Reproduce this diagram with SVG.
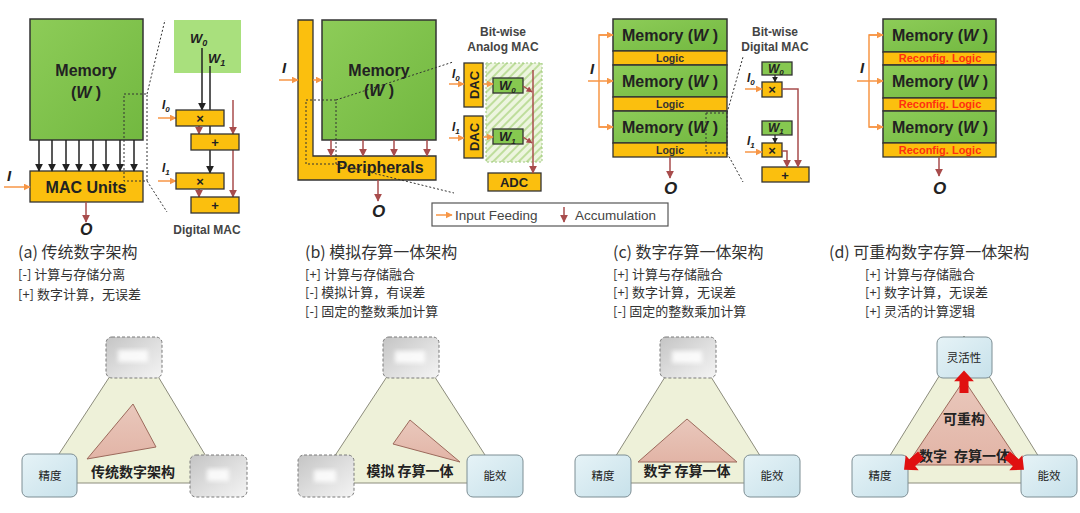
<svg xmlns="http://www.w3.org/2000/svg" width="1080" height="513" viewBox="0 0 1080 513">
<defs>
<linearGradient id="gmem" x1="0" y1="0" x2="1" y2="1"><stop offset="0" stop-color="#8dcc58"/><stop offset="1" stop-color="#72b840"/></linearGradient>
<linearGradient id="gblue" x1="0" y1="0" x2="1" y2="1"><stop offset="0" stop-color="#e6f3f7"/><stop offset="1" stop-color="#c7e1ea"/></linearGradient>
<linearGradient id="ggray" x1="0" y1="0" x2="1" y2="1"><stop offset="0" stop-color="#c4c4c4"/><stop offset="0.6" stop-color="#e2e2e2"/><stop offset="1" stop-color="#f4f4f4"/></linearGradient>
<linearGradient id="gpink" x1="0" y1="0" x2="0" y2="1"><stop offset="0" stop-color="#e9c8bc"/><stop offset="1" stop-color="#e2b4a6"/></linearGradient>
<pattern id="hatch" width="6" height="6" patternUnits="userSpaceOnUse" patternTransform="rotate(45)"><rect width="6" height="6" fill="#edf5df"/><line x1="1" y1="0" x2="1" y2="6" stroke="#b4d88c" stroke-width="1.6"/></pattern>
<filter id="blur" x="-20%" y="-20%" width="140%" height="140%"><feGaussianBlur stdDeviation="2"/></filter>
<marker id="ao" viewBox="0 0 10 10" refX="9" refY="5" markerWidth="7" markerHeight="7" orient="auto" markerUnits="userSpaceOnUse"><path d="M0,0L10,5L0,10z" fill="#f79646"/></marker>
<marker id="ar" viewBox="0 0 10 10" refX="9" refY="5" markerWidth="8" markerHeight="8" orient="auto" markerUnits="userSpaceOnUse"><path d="M0,0L10,5L0,10z" fill="#a84c4c"/></marker>
<marker id="ars" viewBox="0 0 10 10" refX="9" refY="5" markerWidth="6" markerHeight="6" orient="auto" markerUnits="userSpaceOnUse"><path d="M0,0L10,5L0,10z" fill="#a84c4c"/></marker>
<marker id="ab" viewBox="0 0 10 10" refX="9" refY="5" markerWidth="8" markerHeight="8" orient="auto" markerUnits="userSpaceOnUse"><path d="M0,0L10,5L0,10z" fill="#222"/></marker>
<marker id="abs" viewBox="0 0 10 10" refX="9" refY="5" markerWidth="6" markerHeight="6" orient="auto" markerUnits="userSpaceOnUse"><path d="M0,0L10,5L0,10z" fill="#222"/></marker>
<path id="bigarrow" d="M0,-5L13,-5L13,-11L25,0L13,11L13,5L0,5Z"/>
</defs>
<style>
.mem{fill:url(#gmem);stroke:#333;stroke-width:1.5}
.wbox{fill:#86c850;stroke:#333;stroke-width:1.3}
.org{fill:#fbbf0e;stroke:#333;stroke-width:1.3}
.mt{font-family:"Liberation Sans",Arial,sans-serif;font-weight:bold;font-size:16px;fill:#222;text-anchor:middle}
.lg{font-family:"Liberation Sans",Arial,sans-serif;font-weight:bold;font-size:10.5px;fill:#333;text-anchor:middle}
.rl{font-family:"Liberation Sans",Arial,sans-serif;font-weight:bold;font-size:11px;fill:#ff3010;text-anchor:middle}
.op{font-family:"Liberation Sans",Arial,sans-serif;font-weight:bold;font-size:13px;fill:#222;text-anchor:middle}
.var{font-family:"Liberation Sans",Arial,sans-serif;font-weight:bold;font-style:italic;fill:#222}
.cap{font-family:"Liberation Sans",Arial,sans-serif;font-weight:bold;font-size:12px;fill:#444;text-anchor:middle}
.leg{font-family:"Liberation Sans",Arial,sans-serif;font-size:13.5px;fill:#444}
.in{stroke:#f79646;stroke-width:1.5;fill:none;marker-end:url(#ao)}
.inl{stroke:#f79646;stroke-width:1.5;fill:none}
.ac{stroke:#a84c4c;stroke-width:1.5;fill:none;marker-end:url(#ar)}
.acs{stroke:#a84c4c;stroke-width:1.3;fill:none;marker-end:url(#ars)}
.bk{stroke:#222;stroke-width:1.5;fill:none;marker-end:url(#ab)}
.bks{stroke:#222;stroke-width:1.2;fill:none;marker-end:url(#abs)}
.dot{stroke:#333;stroke-width:1;stroke-dasharray:2 2;fill:none}
.h1{font-family:"Noto Sans CJK SC","Liberation Sans",sans-serif;font-size:16px;fill:#333}
.h2{font-family:"Noto Sans CJK SC","Liberation Sans",sans-serif;font-size:13px;fill:#333}
.tri{fill:#eef1d9;stroke:#8c8c7c;stroke-width:1}
.pink{fill:url(#gpink);stroke:#9c6a5c;stroke-width:1}
.tl{font-family:"Noto Sans CJK SC",sans-serif;font-weight:bold;font-size:14px;fill:#222;text-anchor:middle}
.bl{font-family:"Noto Sans CJK SC",sans-serif;font-size:11.5px;fill:#222;text-anchor:middle}
.blue{fill:url(#gblue);stroke:#7d8e94;stroke-width:1}
.gray{fill:url(#ggray);stroke:#7a7a7a;stroke-width:1;stroke-dasharray:3 2}
.blob{fill:#fff;opacity:0.85;filter:url(#blur)}
.red{fill:#e01010}
</style>
<rect width="1080" height="513" fill="#fff"/>

<!-- ===== Panel (a) ===== -->
<g id="a-memory"><rect class="mem" x="30" y="19" width="113" height="121"/><text class="mt" x="86" y="76">Memory</text><text class="mt" x="86" y="98">(<tspan font-style="italic">W</tspan> )</text></g>
<g id="a-mac"><rect class="org" x="30" y="171" width="113" height="31"/><text class="mt" x="86" y="193" font-size="16.5">MAC Units</text></g>
<g id="a-wmem"><rect x="174" y="20" width="67" height="53" fill="#a9e07d"/><text class="var" x="190" y="43" font-size="13">W<tspan font-size="9" dy="3">0</tspan></text><text class="var" x="208" y="63" font-size="13">W<tspan font-size="9" dy="3">1</tspan></text></g>
<g id="a-connectors">
<line class="bk" x1="202" y1="48" x2="202" y2="110"/>
<line class="bk" x1="210" y1="66" x2="210" y2="173"/>
<line class="ac" x1="233" y1="100" x2="233" y2="134"/>
<line class="ac" x1="233" y1="150" x2="233" y2="197"/>
<line class="ac" x1="199" y1="126" x2="199" y2="134"/>
<line class="ac" x1="199" y1="189" x2="199" y2="197"/>
<line class="in" x1="158" y1="118" x2="176" y2="118"/>
<line class="in" x1="158" y1="181" x2="176" y2="181"/>
<line class="bk" x1="39" y1="140" x2="39" y2="171"/>
<line class="bk" x1="52" y1="140" x2="52" y2="171"/>
<line class="bk" x1="66" y1="140" x2="66" y2="171"/>
<line class="bk" x1="79" y1="140" x2="79" y2="171"/>
<line class="bk" x1="93" y1="140" x2="93" y2="171"/>
<line class="bk" x1="106" y1="140" x2="106" y2="171"/>
<line class="bk" x1="120" y1="140" x2="120" y2="171"/>
<line class="bk" x1="134" y1="140" x2="134" y2="171"/>
<line class="in" x1="4" y1="187" x2="30" y2="187"/>
<line class="ac" x1="86" y1="202" x2="86" y2="222"/>
</g>
<g id="a-mul0"><rect class="org" x="176" y="110" width="48" height="16"/><text class="op" x="200" y="123">×</text></g>
<g id="a-add0"><rect class="org" x="191" y="134" width="48" height="16"/><text class="op" x="215" y="147" font-size="15">+</text></g>
<g id="a-mul1"><rect class="org" x="176" y="173" width="48" height="16"/><text class="op" x="200" y="186">×</text></g>
<g id="a-add1"><rect class="org" x="191" y="197" width="48" height="16"/><text class="op" x="215" y="210" font-size="15">+</text></g>
<g id="a-zoom"><rect class="dot" x="124" y="94" width="23" height="87"/><line class="dot" x1="147" y1="94" x2="165" y2="20"/><line class="dot" x1="147" y1="181" x2="167" y2="212"/></g>
<g id="a-labels">
<text class="var" x="7" y="181" font-size="15">I</text>
<text class="var" x="80" y="235" font-size="16">O</text>
<text class="var" x="162" y="109" font-size="12">I<tspan font-size="8" dy="3">0</tspan></text>
<text class="var" x="162" y="172" font-size="12">I<tspan font-size="8" dy="3">1</tspan></text>
<text class="cap" x="207" y="234">Digital MAC</text>
</g>

<!-- ===== Panel (b) ===== -->
<g id="b-periph"><polygon class="org" points="298,20 313,20 313,156 436,156 436,180 298,180"/><text class="mt" x="380" y="173">Peripherals</text></g>
<g id="b-memory"><rect class="mem" x="322" y="20" width="114" height="120"/><text class="mt" x="379" y="76">Memory</text><text class="mt" x="379" y="96">(<tspan font-style="italic">W</tspan> )</text></g>
<g id="b-hatch"><rect x="486" y="63" width="56" height="99" fill="url(#hatch)" stroke="#9cc87a" stroke-width="1" stroke-dasharray="2 2"/></g>
<g id="b-dac0"><rect class="org" x="464" y="63" width="19" height="44"/><text class="op" font-size="14" transform="translate(478.5,85) rotate(-90)">DAC</text></g>
<g id="b-dac1"><rect class="org" x="464" y="116" width="19" height="42"/><text class="op" font-size="14" transform="translate(478.5,137) rotate(-90)">DAC</text></g>
<g id="b-w0"><rect class="wbox" x="493" y="78" width="30" height="15"/><text class="var" x="499" y="90" font-size="13">W<tspan font-size="8" dy="3">0</tspan></text></g>
<g id="b-w1"><rect class="wbox" x="493" y="129" width="30" height="15"/><text class="var" x="499" y="141" font-size="13">W<tspan font-size="8" dy="3">1</tspan></text></g>
<g id="b-adc"><rect class="org" x="488" y="173" width="53" height="18"/><text class="op" x="514" y="187" font-size="14">ADC</text></g>
<g id="b-connectors">
<line class="in" x1="279" y1="80" x2="298" y2="80"/>
<line class="in" x1="313" y1="80" x2="322" y2="80"/>
<line class="ac" x1="331" y1="140" x2="331" y2="156"/>
<line class="ac" x1="363" y1="140" x2="363" y2="156"/>
<line class="ac" x1="394" y1="140" x2="394" y2="156"/>
<line class="ac" x1="427" y1="140" x2="427" y2="156"/>
<line class="ac" x1="378" y1="180" x2="378" y2="201"/>
<line class="in" x1="449" y1="84" x2="464" y2="84"/>
<line class="in" x1="449" y1="138" x2="464" y2="138"/>
<line class="in" x1="483" y1="84" x2="493" y2="84"/>
<line class="in" x1="483" y1="137" x2="493" y2="137"/>
<line class="ac" x1="533" y1="70" x2="533" y2="173"/>
<line class="acs" x1="523" y1="86" x2="532" y2="92"/>
<line class="acs" x1="523" y1="137" x2="532" y2="143"/>
</g>
<g id="b-zoom"><rect class="dot" x="306" y="100" width="30" height="64"/><line class="dot" x1="336" y1="100" x2="453" y2="62"/><line class="dot" x1="336" y1="164" x2="454" y2="193"/></g>
<g id="b-labels">
<text class="var" x="282" y="73" font-size="15">I</text>
<text class="var" x="372" y="217" font-size="17">O</text>
<text class="var" x="452" y="78" font-size="12">I<tspan font-size="8" dy="3">0</tspan></text>
<text class="var" x="452" y="131" font-size="12">I<tspan font-size="8" dy="3">1</tspan></text>
<text class="cap" x="503" y="36">Bit-wise</text>
<text class="cap" x="503" y="51">Analog MAC</text>
</g>
<g id="legend">
<rect x="432" y="203" width="236" height="23" fill="#fff" stroke="#555" stroke-width="1.2"/>
<line class="in" x1="436" y1="215" x2="452" y2="215"/>
<text class="leg" x="455" y="220">Input Feeding</text>
<line class="ac" x1="564" y1="207" x2="564" y2="222"/>
<text class="leg" x="575" y="220">Accumulation</text>
</g>

<!-- ===== Panel (c) ===== -->
<g id="c-mem0"><rect class="mem" x="613" y="19" width="114" height="32"/><text class="mt" x="670" y="41">Memory (<tspan font-style="italic">W</tspan> )</text></g>
<g id="c-logic0"><rect class="org" x="613" y="51" width="114" height="14"/><text class="lg" x="670" y="62">Logic</text></g>
<g id="c-mem1"><rect class="mem" x="613" y="65" width="114" height="32"/><text class="mt" x="670" y="87">Memory (<tspan font-style="italic">W</tspan> )</text></g>
<g id="c-logic1"><rect class="org" x="613" y="97" width="114" height="14"/><text class="lg" x="670" y="108">Logic</text></g>
<g id="c-mem2"><rect class="mem" x="613" y="111" width="114" height="32"/><text class="mt" x="670" y="133">Memory (<tspan font-style="italic">W</tspan> )</text></g>
<g id="c-logic2"><rect class="org" x="613" y="143" width="114" height="14"/><text class="lg" x="670" y="154">Logic</text></g>
<g id="c-w0"><rect class="wbox" x="762" y="62" width="30" height="13"/><text class="var" x="768" y="73" font-size="12">W<tspan font-size="8" dy="2">0</tspan></text></g>
<g id="c-mul0"><rect class="org" x="762" y="82" width="20" height="15"/><text class="op" x="772" y="94">×</text></g>
<g id="c-w1"><rect class="wbox" x="762" y="121" width="30" height="14"/><text class="var" x="768" y="132" font-size="12">W<tspan font-size="8" dy="2">1</tspan></text></g>
<g id="c-mul1"><rect class="org" x="762" y="143" width="20" height="14"/><text class="op" x="772" y="155">×</text></g>
<g id="c-add"><rect class="org" x="762" y="167" width="47" height="15"/><text class="op" x="785" y="180" font-size="15">+</text></g>
<g id="c-connectors">
<polyline class="inl" points="613,35 599,35 599,127 613,127"/>
<line class="in" x1="599" y1="35" x2="613" y2="35"/>
<line class="in" x1="588" y1="81" x2="613" y2="81"/>
<line class="in" x1="599" y1="127" x2="613" y2="127"/>
<line class="ac" x1="670" y1="157" x2="670" y2="178"/>
<line class="bks" x1="775" y1="75" x2="775" y2="82"/>
<line class="bks" x1="775" y1="135" x2="775" y2="143"/>
<line class="in" x1="745" y1="89" x2="762" y2="89"/>
<line class="in" x1="745" y1="152" x2="762" y2="152"/>
<polyline class="ac" points="782,89 798,89 798,167"/>
<polyline class="ac" points="782,151 787,151 787,167"/>
</g>
<g id="c-zoom"><rect class="dot" x="706" y="113" width="21" height="40"/><line class="dot" x1="727" y1="113" x2="743" y2="57"/><line class="dot" x1="727" y1="153" x2="743" y2="182"/></g>
<g id="c-labels">
<text class="var" x="590" y="74" font-size="15">I</text>
<text class="var" x="664" y="194" font-size="17">O</text>
<text class="var" x="747" y="82" font-size="12">I<tspan font-size="8" dy="3">0</tspan></text>
<text class="var" x="747" y="145" font-size="12">I<tspan font-size="8" dy="3">1</tspan></text>
<text class="cap" x="775" y="36">Bit-wise</text>
<text class="cap" x="775" y="51">Digital MAC</text>
</g>

<!-- ===== Panel (d) ===== -->
<g id="d-mem0"><rect class="mem" x="883" y="19" width="113" height="33"/><text class="mt" x="940" y="41">Memory (<tspan font-style="italic">W</tspan> )</text></g>
<g id="d-logic0"><rect class="org" x="883" y="52" width="113" height="13"/><text class="rl" x="940" y="62">Reconfig. Logic</text></g>
<g id="d-mem1"><rect class="mem" x="883" y="65" width="113" height="33"/><text class="mt" x="940" y="87">Memory (<tspan font-style="italic">W</tspan> )</text></g>
<g id="d-logic1"><rect class="org" x="883" y="98" width="113" height="13"/><text class="rl" x="940" y="108">Reconfig. Logic</text></g>
<g id="d-mem2"><rect class="mem" x="883" y="111" width="113" height="32"/><text class="mt" x="940" y="133">Memory (<tspan font-style="italic">W</tspan> )</text></g>
<g id="d-logic2"><rect class="org" x="883" y="143" width="113" height="14"/><text class="rl" x="940" y="154">Reconfig. Logic</text></g>
<g id="d-connectors">
<polyline class="inl" points="883,35 869,35 869,127 883,127"/>
<line class="in" x1="869" y1="35" x2="883" y2="35"/>
<line class="in" x1="857" y1="81" x2="883" y2="81"/>
<line class="in" x1="869" y1="127" x2="883" y2="127"/>
<line class="ac" x1="939" y1="157" x2="939" y2="176"/>
</g>
<g id="d-labels">
<text class="var" x="860" y="73" font-size="15">I</text>
<text class="var" x="933" y="194" font-size="17">O</text>
</g>

<!-- ===== captions ===== -->
<g id="cap-a"><text class="h1" x="18" y="258">(a) 传统数字架构</text><text class="h2" x="18" y="279">[-] 计算与存储分离</text><text class="h2" x="18" y="299">[+] 数字计算，无误差</text></g>
<g id="cap-b"><text class="h1" x="305" y="258">(b) 模拟存算一体架构</text><text class="h2" x="305" y="279">[+] 计算与存储融合</text><text class="h2" x="305" y="297">[-] 模拟计算，有误差</text><text class="h2" x="305" y="316">[-] 固定的整数乘加计算</text></g>
<g id="cap-c"><text class="h1" x="613" y="258">(c) 数字存算一体架构</text><text class="h2" x="613" y="279">[+] 计算与存储融合</text><text class="h2" x="613" y="297">[+] 数字计算，无误差</text><text class="h2" x="613" y="316">[-] 固定的整数乘加计算</text></g>
<g id="cap-d"><text class="h1" x="829" y="258">(d) 可重构数字存算一体架构</text><text class="h2" x="865" y="279">[+] 计算与存储融合</text><text class="h2" x="865" y="297">[+] 数字计算，无误差</text><text class="h2" x="865" y="316">[+] 灵活的计算逻辑</text></g>

<!-- ===== triangles ===== -->
<g id="tri-a">
<polygon class="tri" points="135,338 40,483 222,483"/>
<polygon class="pink" points="133,404 156,447 87,459"/>
<text class="tl" x="133" y="477">传统数字架构</text>
<rect class="gray" x="106" y="337" width="56" height="41" rx="6"/><rect class="blob" x="118" y="350" width="30" height="12"/>
<rect class="blue" x="22" y="454" width="55" height="43" rx="6"/><text class="bl" x="50" y="480">精度</text>
<rect class="gray" x="190" y="455" width="57" height="42" rx="6"/><rect class="blob" x="207" y="469" width="22" height="12"/>
</g>
<g id="tri-b">
<polygon class="tri" points="411,340 317,483 503,483"/>
<polygon class="pink" points="410,420 393,444 460,462"/>
<text class="tl" x="410" y="476">模拟 存算一体</text>
<rect class="gray" x="383" y="337" width="56" height="41" rx="6"/><rect class="blob" x="395" y="351" width="30" height="12"/>
<rect class="gray" x="298" y="455" width="56" height="42" rx="6"/><rect class="blob" x="314" y="470" width="22" height="12"/>
<rect class="blue" x="467" y="455" width="56" height="42" rx="6"/><text class="bl" x="495" y="480">能效</text>
</g>
<g id="tri-c">
<polygon class="tri" points="688,340 599,483 777,483"/>
<polygon class="pink" points="687,419 737,462 638,462"/>
<text class="tl" x="687" y="476">数字 存算一体</text>
<rect class="gray" x="660" y="337" width="56" height="41" rx="6"/><rect class="blob" x="672" y="351" width="30" height="12"/>
<rect class="blue" x="575" y="455" width="56" height="42" rx="6"/><text class="bl" x="603" y="480">精度</text>
<rect class="blue" x="744" y="455" width="56" height="42" rx="6"/><text class="bl" x="772" y="480">能效</text>
</g>
<g id="tri-d">
<polygon class="tri" points="964,336 873,483 1055,483"/>
<polygon class="pink" points="964,380 907,465 1021,465"/>
<text class="tl" x="964" y="424">可重构</text>
<text class="tl" x="933" y="461">数字</text>
<text class="tl" x="982" y="461">存算一体</text>
<rect class="blue" x="937" y="337" width="55" height="41" rx="6"/><text class="bl" x="964" y="362">灵活性</text>
<rect class="blue" x="852" y="455" width="56" height="42" rx="6"/><text class="bl" x="880" y="480">精度</text>
<rect class="blue" x="1021" y="455" width="56" height="42" rx="6"/><text class="bl" x="1049" y="480">能效</text>
<use href="#bigarrow" class="red" transform="translate(964,393) rotate(-90) scale(0.9)"/>
<use href="#bigarrow" class="red" transform="translate(921,455) rotate(139) scale(0.9)"/>
<use href="#bigarrow" class="red" transform="translate(1007,455) rotate(41) scale(0.9)"/>
</g>
</svg>
